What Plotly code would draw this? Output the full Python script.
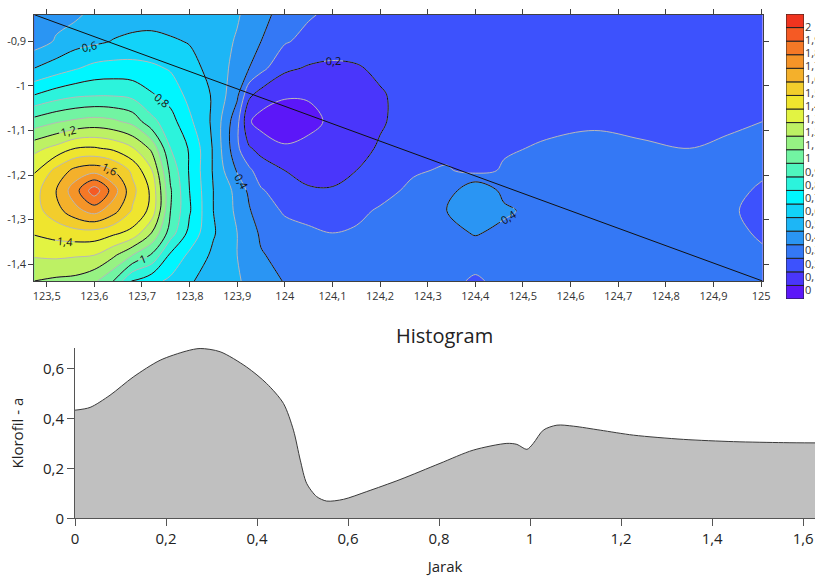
import plotly.graph_objects as go

# ---------------- data ----------------
lon = [123.474, 123.52, 123.56, 123.60, 123.64, 123.68, 123.72, 123.76, 123.80, 123.85,
       123.90, 123.925, 123.95, 124.00, 124.05, 124.10, 124.15, 124.20, 124.27, 124.34,
       124.40, 124.46, 124.55, 124.65, 124.75, 124.85, 124.93, 125.003]
lat = [-0.84, -0.90, -0.96, -1.02, -1.08, -1.14, -1.19, -1.235, -1.28, -1.33, -1.38, -1.438]

# chlorophyll-a grid, one row per latitude (north -> south), one value per longitude
chl = [
    [0.43, 0.47, 0.48, 0.53, 0.55, 0.57, 0.57, 0.56, 0.54, 0.53, 0.51, 0.47, 0.44, 0.35, 0.31, 0.28, 0.27, 0.27, 0.27, 0.27, 0.27, 0.27, 0.26, 0.26, 0.26, 0.26, 0.26, 0.26],
    [0.45, 0.51, 0.56, 0.58, 0.605, 0.615, 0.62, 0.61, 0.595, 0.55, 0.49, 0.45, 0.40, 0.31, 0.27, 0.25, 0.25, 0.26, 0.27, 0.27, 0.27, 0.27, 0.26, 0.26, 0.26, 0.26, 0.26, 0.27],
    [0.60, 0.65, 0.69, 0.73, 0.74, 0.74, 0.72, 0.69, 0.63, 0.57, 0.46, 0.40, 0.33, 0.22, 0.19, 0.18, 0.19, 0.22, 0.25, 0.27, 0.27, 0.27, 0.26, 0.27, 0.26, 0.26, 0.27, 0.28],
    [0.80, 0.85, 0.88, 0.89, 0.89, 0.87, 0.81, 0.76, 0.67, 0.59, 0.42, 0.22, 0.16, 0.11, 0.11, 0.14, 0.16, 0.19, 0.24, 0.26, 0.27, 0.27, 0.27, 0.28, 0.27, 0.27, 0.28, 0.29],
    [1.04, 1.09, 1.12, 1.14, 1.12, 1.07, 0.93, 0.84, 0.72, 0.58, 0.33, 0.11, 0.06, 0.05, 0.07, 0.12, 0.15, 0.19, 0.24, 0.27, 0.27, 0.28, 0.28, 0.29, 0.28, 0.28, 0.29, 0.30],
    [1.27, 1.33, 1.40, 1.41, 1.38, 1.31, 1.18, 0.90, 0.79, 0.59, 0.32, 0.21, 0.17, 0.11, 0.13, 0.14, 0.17, 0.21, 0.25, 0.27, 0.27, 0.29, 0.31, 0.32, 0.31, 0.30, 0.31, 0.31],
    [1.39, 1.53, 1.63, 1.66, 1.60, 1.48, 1.31, 0.97, 0.79, 0.59, 0.39, 0.32, 0.25, 0.20, 0.17, 0.16, 0.20, 0.23, 0.29, 0.31, 0.27, 0.31, 0.33, 0.34, 0.33, 0.32, 0.32, 0.31],
    [1.46, 1.60, 1.76, 1.96, 1.75, 1.53, 1.38, 1.01, 0.80, 0.60, 0.47, 0.38, 0.31, 0.25, 0.21, 0.21, 0.24, 0.27, 0.32, 0.34, 0.50, 0.37, 0.34, 0.35, 0.34, 0.33, 0.32, 0.29],
    [1.46, 1.56, 1.67, 1.74, 1.64, 1.49, 1.37, 1.00, 0.81, 0.60, 0.48, 0.41, 0.34, 0.29, 0.28, 0.26, 0.28, 0.31, 0.33, 0.40, 0.47, 0.42, 0.35, 0.35, 0.34, 0.33, 0.31, 0.28],
    [1.41, 1.44, 1.46, 1.46, 1.42, 1.37, 1.20, 0.95, 0.77, 0.61, 0.50, 0.46, 0.38, 0.33, 0.31, 0.30, 0.31, 0.32, 0.34, 0.36, 0.41, 0.37, 0.35, 0.35, 0.34, 0.33, 0.32, 0.29],
    [1.31, 1.32, 1.31, 1.30, 1.22, 1.10, 0.99, 0.78, 0.68, 0.58, 0.50, 0.46, 0.41, 0.36, 0.34, 0.33, 0.33, 0.33, 0.34, 0.34, 0.33, 0.34, 0.35, 0.35, 0.34, 0.33, 0.32, 0.31],
    [1.20, 1.18, 1.17, 1.12, 1.00, 0.79, 0.73, 0.68, 0.61, 0.56, 0.51, 0.48, 0.44, 0.395, 0.36, 0.34, 0.34, 0.33, 0.33, 0.32, 0.29, 0.32, 0.34, 0.34, 0.34, 0.33, 0.32, 0.31],
]

# transect (section line) end points
transect_lon = [123.474, 125.003]
transect_lat = [-0.84, -1.438]

# profile along the transect
jarak = [0, 0.033, 0.077, 0.128, 0.187, 0.245, 0.275, 0.319, 0.377, 0.421, 0.458, 0.48,
         0.495, 0.509, 0.531, 0.553, 0.59, 0.641, 0.714, 0.802, 0.875, 0.949, 0.971, 0.993,
         1.007, 1.029, 1.059, 1.095, 1.154, 1.227, 1.337, 1.447, 1.557, 1.626]
klorofil = [0.433, 0.444, 0.493, 0.566, 0.633, 0.670, 0.68, 0.667, 0.606, 0.54, 0.46, 0.353,
            0.233, 0.14, 0.087, 0.069, 0.076, 0.107, 0.155, 0.22, 0.273, 0.30, 0.296, 0.276,
            0.30, 0.353, 0.373, 0.369, 0.353, 0.333, 0.316, 0.307, 0.303, 0.302]

# legend levels (0 .. 2 by 0.1) and their colours (lowest band first)
level_labels = ["0", "0,1", "0,2", "0,3", "0,4", "0,5", "0,6", "0,7", "0,8", "0,9", "1",
                "1,1", "1,2", "1,3", "1,4", "1,5", "1,6", "1,7", "1,8", "1,9", "2"]
band_colors = ["#5c17f8", "#4a36fb", "#3d52fd", "#3478f5", "#2a95f3", "#1db6f6", "#12d3f9",
               "#00f6ff", "#2cf3dc", "#4ff5be", "#72f4a2", "#96f283", "#bdf164", "#e2f342",
               "#efe52e", "#f2cd2c", "#f4b02b", "#f59428", "#f57826", "#f55a24", "#f0341f"]

lon_ticks = [123.5, 123.6, 123.7, 123.8, 123.9, 124.0, 124.1, 124.2, 124.3, 124.4, 124.5,
             124.6, 124.7, 124.8, 124.9, 125.0]
lon_labels = ["123,5", "123,6", "123,7", "123,8", "123,9", "124", "124,1", "124,2", "124,3",
              "124,4", "124,5", "124,6", "124,7", "124,8", "124,9", "125"]
lat_ticks = [-0.9, -1.0, -1.1, -1.2, -1.3, -1.4]
lat_labels = ["-0,9", "-1", "-1,1", "-1,2", "-1,3", "-1,4"]

# ---------------- figure ----------------
FONT = "Open Sans"
W, H = 815, 576
n = len(band_colors)
colorscale = [[i / (n - 1), c] for i, c in enumerate(band_colors)]

lat_up = lat[::-1]
chl_up = chl[::-1]

fig = go.Figure()

fig.add_trace(go.Contour(
    x=lon, y=lat_up, z=chl_up, xaxis="x", yaxis="y",
    autocontour=False,
    contours=dict(start=0.1, end=2.0, size=0.1, coloring="fill", showlines=True),
    colorscale=colorscale, showscale=False,
    line=dict(color="#b8b8b8", width=1, smoothing=1.0),
    hoverinfo="skip",
))
fig.add_trace(go.Contour(
    x=lon, y=lat_up, z=chl_up, xaxis="x", yaxis="y",
    autocontour=False,
    contours=dict(start=0.2, end=1.8, size=0.2, coloring="none", showlabels=True,
                  labelfont=dict(family=FONT, size=11, color="#111")),
    line=dict(color="#111", width=1, smoothing=1.0),
    showscale=False, hoverinfo="skip",
))
fig.add_trace(go.Scatter(
    x=transect_lon, y=transect_lat, xaxis="x", yaxis="y", mode="lines",
    line=dict(color="#111", width=1), showlegend=False, hoverinfo="skip",
))

# colour legend built as stacked boxes
fig.add_trace(go.Bar(
    x=[0] * n, y=[1] * n, base=list(range(n)), width=1,
    xaxis="x3", yaxis="y3",
    marker=dict(color=band_colors, line=dict(color="#222", width=1)),
    showlegend=False, hoverinfo="skip",
))

# profile
fig.add_trace(go.Scatter(
    x=jarak, y=klorofil, xaxis="x2", yaxis="y2", mode="lines",
    line=dict(color="#3a3a3a", width=1, shape="spline", smoothing=0.8),
    fill="tozeroy", fillcolor="#c0c0c0", showlegend=False, hoverinfo="skip",
))

axis_common = dict(showgrid=False, zeroline=False, showline=True, linewidth=1,
                   ticks="outside")

fig.update_layout(
    width=W, height=H,
    margin=dict(l=0, r=0, t=0, b=0, autoexpand=False),
    paper_bgcolor="white", plot_bgcolor="white",
    separators=", ",
    font=dict(family=FONT, color="#222"),
    showlegend=False,
    barmode="overlay",
    xaxis=dict(domain=[34.3 / W, 762.5 / W], range=[123.474, 125.003], anchor="y",
               tickvals=lon_ticks, ticktext=lon_labels, tickfont=dict(size=11, color="#333"),
               linecolor="#404040", tickcolor="#404040", ticklen=5, mirror="ticks",
               **axis_common),
    yaxis=dict(domain=[(H - 281) / H, (H - 14.7) / H], range=[-1.438, -0.84], anchor="x",
               tickvals=lat_ticks, ticktext=lat_labels, tickfont=dict(size=11, color="#333"),
               linecolor="#404040", tickcolor="#404040", ticklen=5, mirror="ticks",
               **axis_common),
    xaxis3=dict(domain=[786 / W, 804 / W], range=[-0.5, 0.5], anchor="y3",
                showticklabels=False, showgrid=False, zeroline=False, showline=False, ticks=""),
    yaxis3=dict(domain=[(H - 299) / H, (H - 14) / H], range=[0, n], anchor="x3", side="right",
                tickvals=[0.66 + k * 0.969 for k in range(n)], ticktext=level_labels,
                tickfont=dict(size=11, color="#333"), ticks="", showgrid=False,
                zeroline=False, showline=False),
    xaxis2=dict(domain=[75 / W, 1.0], range=[0, 1.626], anchor="y2",
                dtick=0.2, tick0=0, tickfont=dict(size=15, color="#222"),
                linecolor="#555", tickcolor="#555", ticklen=7,
                title=dict(text="Jarak", font=dict(size=15, color="#222"), standoff=18),
                **axis_common),
    yaxis2=dict(domain=[(H - 518.3) / H, (H - 348) / H], range=[0, 0.682], anchor="x2",
                dtick=0.2, tick0=0, tickfont=dict(size=15, color="#222"),
                linecolor="#555", tickcolor="#555", ticklen=7,
                title=dict(text="Klorofil - a", font=dict(size=15, color="#222"), standoff=15),
                **axis_common),
    annotations=[dict(text="Histogram", xref="paper", yref="paper",
                      x=(75 + 815) / 2 / W, y=(H - 335) / H, xanchor="center", yanchor="middle",
                      showarrow=False, font=dict(size=20, color="#222", family=FONT))],
)

fig.write_html("out.html")
